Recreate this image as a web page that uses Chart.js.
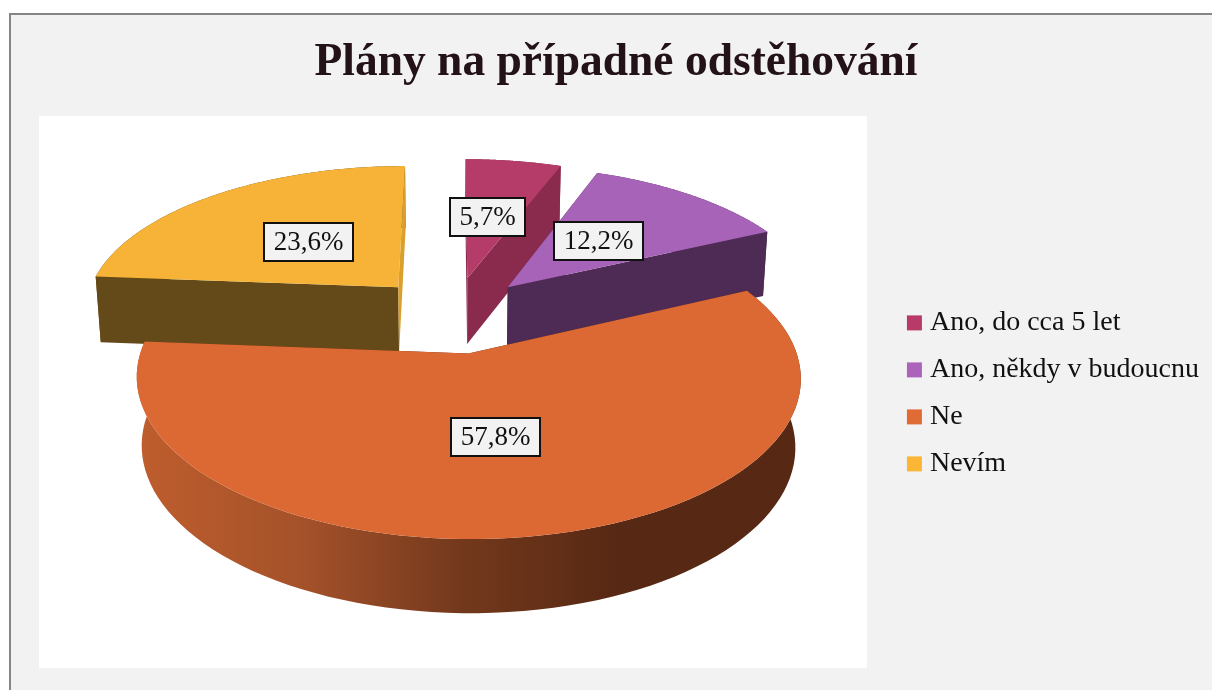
<!DOCTYPE html>
<html lang="cs">
<head>
<meta charset="utf-8">
<title>Plány na případné odstěhování</title>
<style>
html,body{margin:0;padding:0;background:#fff;overflow:hidden;width:1212px;height:690px}
#frame{position:absolute;left:9px;top:13px;border:2px solid #868686;border-right:none;border-bottom:none;width:1212px;height:675px}
canvas{display:block}
</style>
<script src="https://cdn.jsdelivr.net/npm/chart.js@4"></script>
</head>
<body>
<div id="frame"><canvas id="c" width="1212" height="675"></canvas></div>
<script>
const titleText = 'Plány na případné odstěhování';
const categories = ['Ano, do cca 5 let', 'Ano, někdy v budoucnu', 'Ne', 'Nevím'];
const shares = [5.7, 12.2, 57.8, 23.6];
const topColors = ['#B53C68', '#A763B8', '#DC6933', '#F6B337'];
const legendColors = ['#B83A68', '#AC63BC', '#E06B35', '#FCB636'];
const startWallColors = ['#8A2A4D', '#4E2B55', '#5A2A14', '#634A18'];
const endWallColors = ['#8A2A4D', '#4E2B55', '#5A2A14', '#D9A02C'];
const SERIF = '"Liberation Serif", serif';

// Camera used to lay the flat pie down in perspective
const cam = {cx: 442, cy: 299.5, S: 316, T: 146, k: 0.145, D: 67, kh: 0.015};
function project(u, v, h) {
  const w0 = 1 - cam.k * v;
  const w = w0 + cam.kh * h;
  return [cam.cx + cam.S * u / w, cam.cy + cam.T * v / w0 + cam.D * h / Math.sqrt(w0)];
}
function trace(ctx, pts) {
  ctx.beginPath();
  pts.forEach((p, i) => i ? ctx.lineTo(p[0], p[1]) : ctx.moveTo(p[0], p[1]));
  ctx.closePath();
}

const pie3d = {
  id: 'pie3d',
  beforeDraw(chart) {
    const ctx = chart.ctx;
    ctx.save();
    ctx.fillStyle = '#F2F2F2';
    ctx.fillRect(0, 0, chart.width, chart.height);
    ctx.fillStyle = '#FFFFFF';
    ctx.fillRect(28, 101, 828, 552);
    ctx.restore();
  },
  beforeDatasetsDraw(chart) {
    const ctx = chart.ctx;
    const arcs = chart.getDatasetMeta(0).data;
    const slices = arcs.map((el, i) => {
      const o = el.options.offset / el.outerRadius;
      const mid = (el.startAngle + el.endAngle) / 2;
      const u0 = Math.cos(mid) * o, v0 = Math.sin(mid) * o;
      const rim = [];
      const n = 90;
      for (let j = 0; j <= n; j++) {
        const a = el.startAngle + (el.endAngle - el.startAngle) * j / n;
        rim.push([u0 + Math.cos(a), v0 + Math.sin(a)]);
      }
      return {i, u0, v0, mid, rim, depth: v0};
    }).sort((a, b) => a.depth - b.depth);

    ctx.save();
    slices.forEach(s => {
      const top = s.rim.map(p => project(p[0], p[1], 0));
      const bot = s.rim.map(p => project(p[0], p[1], 1));
      const a0 = project(s.u0, s.v0, 0), a1 = project(s.u0, s.v0, 1);
      // outer rim
      let fill = startWallColors[s.i];
      if (s.depth > 0) {
        const g = ctx.createLinearGradient(130, 0, 790, 0);
        g.addColorStop(0, '#BE5D2D');
        g.addColorStop(0.24, '#A5522A');
        g.addColorStop(0.48, '#74391C');
        g.addColorStop(0.72, '#572813');
        g.addColorStop(1, '#572813');
        fill = g;
      }
      ctx.fillStyle = fill;
      trace(ctx, top.concat(bot.slice().reverse()));
      ctx.fill();
      // radial walls
      ctx.fillStyle = startWallColors[s.i];
      trace(ctx, [a0, top[0], bot[0], a1]);
      ctx.fill();
      ctx.fillStyle = endWallColors[s.i];
      trace(ctx, [a0, top[top.length - 1], bot[bot.length - 1], a1]);
      ctx.fill();
      // top face
      ctx.fillStyle = topColors[s.i];
      trace(ctx, [a0].concat(top));
      ctx.fill();
    });

    // value labels, nudged to where the reference placed them
    const nudge = [[-4, 1], [-6, 2], [-6, 0], [7, 3]];
    ctx.font = '27px ' + SERIF;
    ctx.textAlign = 'center';
    ctx.textBaseline = 'middle';
    slices.forEach(s => {
      const r = 0.5;
      const p = project(s.u0 + Math.cos(s.mid) * r, s.v0 + Math.sin(s.mid) * r, 0);
      const txt = shares[s.i].toFixed(1).replace('.', ',') + '%';
      const bw = Math.round(ctx.measureText(txt).width) + 19, bh = 38;
      const bx = Math.round(p[0] - bw / 2) + nudge[s.i][0], by = Math.round(p[1] - bh / 2) + nudge[s.i][1];
      ctx.fillStyle = '#F2F2F2';
      ctx.fillRect(bx, by, bw, bh);
      ctx.strokeStyle = '#111111';
      ctx.lineWidth = 2;
      ctx.strokeRect(bx, by, bw, bh);
      ctx.fillStyle = '#111111';
      ctx.fillText(txt, bx + bw / 2, by + bh / 2 + 1);
    });
    ctx.restore();
    return false;
  }
};

new Chart(document.getElementById('c'), {
  type: 'pie',
  data: {
    labels: categories,
    datasets: [{data: shares, backgroundColor: topColors, borderWidth: 0, offset: 64}]
  },
  options: {
    responsive: false,
    animation: false,
    layout: {padding: {left: 12, right: 14, top: 0, bottom: 22}},
    plugins: {
      tooltip: {enabled: false},
      title: {
        display: true,
        text: titleText,
        color: '#231218',
        font: {family: SERIF, size: 45.5, weight: 'bold', lineHeight: 1.2},
        padding: {top: 21, bottom: 25}
      },
      legend: {
        position: 'right',
        title: {display: true, text: ' ', font: {family: SERIF, size: 24}, padding: {top: 38, bottom: 37}},
        labels: {
          color: '#111111',
          font: {family: SERIF, size: 28},
          boxWidth: 3,
          boxHeight: 3,
          padding: 19,
          generateLabels: chart => categories.map((text, i) => ({
            text,
            index: i,
            fillStyle: legendColors[i],
            strokeStyle: legendColors[i],
            lineWidth: 12,
            fontColor: '#111111',
            hidden: false
          }))
        }
      }
    }
  },
  plugins: [pie3d]
});
</script>
</body>
</html>
